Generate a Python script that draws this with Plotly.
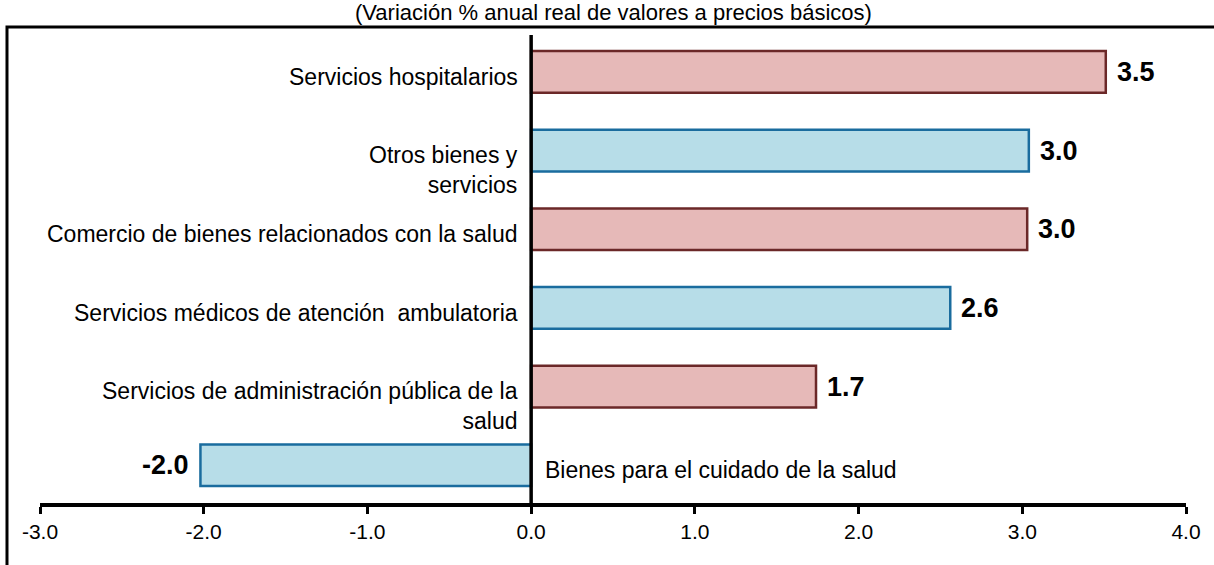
import plotly.graph_objects as go

# data (top to bottom)
categories = [
    "Servicios hospitalarios",
    "Otros bienes y<br>servicios",
    "Comercio de bienes relacionados con la salud",
    "Servicios médicos de atención  ambulatoria",
    "Servicios de administración pública de la<br>salud",
    "Bienes para el cuidado de la salud",
]
values = [3.51, 3.04, 3.03, 2.56, 1.74, -2.02]
tick_vals = [-3, -2, -1, 0, 1, 2, 3, 4]
tick_labels = ["-3.0", "-2.0", "-1.0", "0.0", "1.0", "2.0", "3.0", "4.0"]
subtitle = "(Variación % anual real de valores a precios básicos)"

pink_fill, pink_line = "#E6B9B8", "#6B2828"
blue_fill, blue_line = "#B7DDE8", "#1A6C9E"
fills = [pink_fill if i % 2 == 0 else blue_fill for i in range(len(values))]
lines = [pink_line if i % 2 == 0 else blue_line for i in range(len(values))]

FONT = "Liberation Sans, Arial, sans-serif"

fig = go.Figure()
fig.add_trace(go.Bar(
    x=values,
    y=categories,
    orientation="h",
    width=0.53,
    marker=dict(color=fills, line=dict(color=lines, width=2.5)),
    hoverinfo="x+y",
))

# category labels next to the zero axis
for cat, v in zip(categories, values):
    nlines = cat.count("<br>") + 1
    left_side = cat != "Bienes para el cuidado de la salud"
    fig.add_annotation(
        x=0, y=cat, text=cat, showarrow=False,
        xanchor="right" if left_side else "left",
        align="right" if left_side else "left",
        xshift=-11 if left_side else 12,
        yshift=-5 - 14 * (nlines - 1),
        font=dict(family=FONT, size=23, color="black"),
    )

# value labels
for cat, v in zip(categories, values):
    fig.add_annotation(
        x=v, y=cat, text=f"<b>{v:.1f}</b>", showarrow=False,
        xanchor="left" if v >= 0 else "right",
        xshift=9 if v >= 0 else -9,
        font=dict(family=FONT, size=27, color="black"),
    )

# subtitle
fig.add_annotation(
    x=0.5, xref="paper", y=1.0, yref="paper", yanchor="middle", yshift=23,
    text=subtitle, showarrow=False,
    font=dict(family=FONT, size=22, color="black"),
)

# zero axis line and outer frame
fig.add_shape(type="line", x0=0, x1=0, xref="x", y0=0, y1=1, yref="paper",
              line=dict(color="black", width=3.5), layer="above")
fig.add_shape(type="rect", xref="paper", yref="paper",
              x0=-0.0288, x1=1.2, y0=-0.5, y1=1.017,
              line=dict(color="black", width=3))

fig.update_layout(
    width=1214, height=565,
    margin=dict(l=40, r=28, t=35, b=62),
    plot_bgcolor="white", paper_bgcolor="white",
    showlegend=False,
    font=dict(family=FONT, color="black"),
    xaxis=dict(
        range=[-3, 4], tickvals=tick_vals, ticktext=tick_labels,
        showgrid=False, zeroline=False,
        showline=True, linecolor="black", linewidth=3.5,
        ticks="outside", ticklen=7, tickwidth=3, tickcolor="black",
        tickfont=dict(family=FONT, size=21, color="black"),
    ),
    yaxis=dict(
        range=[5.48, -0.47], showticklabels=False,
        showgrid=False, zeroline=False, showline=False, ticks="",
    ),
)

fig.write_html("out.html", config={"displayModeBar": False},
               post_script="document.body.style.margin='0';")
